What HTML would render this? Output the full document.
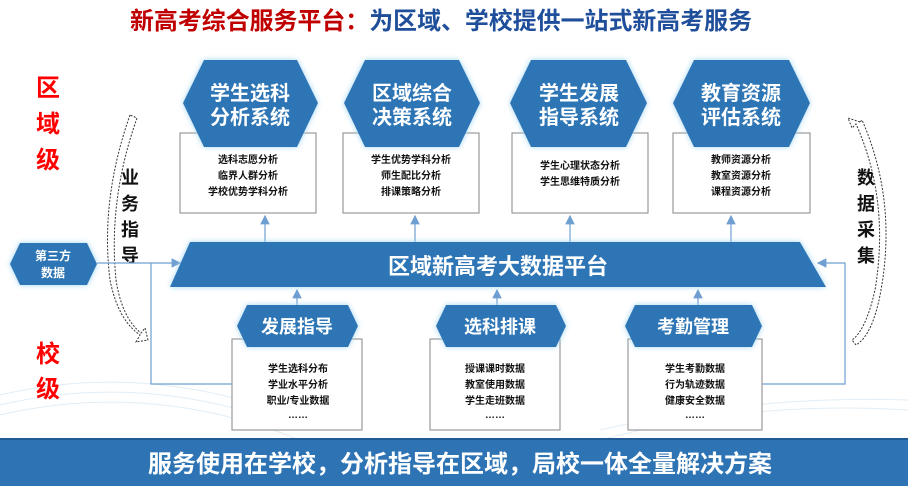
<!DOCTYPE html>
<html><head><meta charset="utf-8"><style>
html,body{margin:0;padding:0;background:#fff}
svg{display:block}
text{font-family:"Liberation Sans","Noto Sans CJK SC",sans-serif;font-weight:bold}
</style></head><body>
<svg width="908" height="486" viewBox="0 0 908 486" xmlns="http://www.w3.org/2000/svg">
<defs>
<filter id="g" x="-20%" y="-20%" width="140%" height="140%"><feGaussianBlur in="SourceAlpha" stdDeviation="3"/><feFlood flood-color="#9fd6f5"/><feComposite operator="in" in2="SourceAlpha"/><feGaussianBlur stdDeviation="3"/><feMerge><feMergeNode/><feMergeNode in="SourceGraphic"/></feMerge></filter>
<marker id="a" markerWidth="8" markerHeight="8" refX="7" refY="4" orient="auto"><path d="M0,0 L8,4 L0,8z" fill="#6f9fd1"/></marker>
</defs>
<g stroke="#dbe9f3" stroke-width="1" opacity="0.8">
<path d="M0,395 Q150,360 300,420" fill="none"/><path d="M0,405 Q150,370 300,430" fill="none"/><path d="M0,415 Q150,380 300,440" fill="none"/>
<path d="M600,440 Q750,400 908,410" fill="none"/><path d="M600,430 Q750,395 908,400" fill="none"/>
</g>
<text x="130" y="29" font-size="24" fill="#c00000" textLength="622" lengthAdjust="spacingAndGlyphs">新高考综合服务平台：<tspan fill="#1f4e9a">为区域、学校提供一站式新高考服务</tspan></text>

<g font-size="24" fill="#ff0000" text-anchor="middle">
<text x="48" y="96">区</text><text x="48" y="132">域</text><text x="48" y="168">级</text>
<text x="48" y="362">校</text><text x="48" y="397">级</text>
</g>
<g font-size="18" fill="#111" text-anchor="middle">
<text x="130" y="184">业</text><text x="130" y="210">务</text><text x="130" y="236">指</text><text x="130" y="262">导</text>
<text x="866" y="184">数</text><text x="866" y="210">据</text><text x="866" y="236">采</text><text x="866" y="262">集</text>
</g>
<path d="M130,115 Q100,200 110,280 Q118,320 140,335 L136,342 L148,340 L145,328 L141,333 Q122,318 116,280 Q108,200 137,118z" fill="#fff" stroke="#333" stroke-width="1" stroke-dasharray="2,1.5"/>
<path d="M860,122 L848,118 L852,128 L856,124 Q890,200 875,290 Q866,330 852,340 L856,345 Q873,335 881,290 Q897,200 862,120z" fill="#fff" stroke="#333" stroke-width="1" stroke-dasharray="2,1.5"/>

<g fill="#fff" stroke="#999" stroke-width="1.2">
<rect x="180" y="133" width="136" height="80"/><rect x="343" y="133" width="136" height="80"/>
<rect x="512" y="133" width="136" height="80"/><rect x="673" y="133" width="137" height="80"/>
</g>
<g fill="#2e74b5" filter="url(#g)">
<polygon points="183,103 204,60 297,60 318,103 297,147 204,147"/>
<polygon points="344,103 365,60 459,60 480,103 459,147 365,147"/>
<polygon points="510,103 531,60 626,60 647,103 626,147 531,147"/>
<polygon points="673,103 694,60 789,60 810,103 789,147 694,147"/>
</g>
<g font-size="20" fill="#fff" text-anchor="middle">
<text x="250" y="100">学生选科</text><text x="250" y="124">分析系统</text>
<text x="412" y="100">区域综合</text><text x="412" y="124">决策系统</text>
<text x="579" y="100">学生发展</text><text x="579" y="124">指导系统</text>
<text x="741" y="100">教育资源</text><text x="741" y="124">评估系统</text>
</g>
<g font-size="10" fill="#111" text-anchor="middle">
<text x="248" y="163">选科志愿分析</text><text x="248" y="179">临界人群分析</text><text x="248" y="195">学校优势学科分析</text>
<text x="411" y="163">学生优势学科分析</text><text x="411" y="179">师生配比分析</text><text x="411" y="195">排课策略分析</text>
<text x="580" y="169">学生心理状态分析</text><text x="580" y="185">学生思维特质分析</text>
<text x="741" y="163">教师资源分析</text><text x="741" y="179">教室资源分析</text><text x="741" y="195">课程资源分析</text>
</g>
<g stroke="#6f9fd1" stroke-width="1.2" fill="none">
<line x1="265" y1="242" x2="265" y2="216" marker-end="url(#a)"/>
<line x1="415" y1="242" x2="415" y2="216" marker-end="url(#a)"/>
<line x1="570" y1="242" x2="570" y2="216" marker-end="url(#a)"/>
<line x1="731" y1="242" x2="731" y2="216" marker-end="url(#a)"/>
<line x1="297" y1="305" x2="297" y2="290" marker-end="url(#a)"/>
<line x1="497" y1="305" x2="497" y2="290" marker-end="url(#a)"/>
<line x1="698" y1="305" x2="698" y2="290" marker-end="url(#a)"/>
<line x1="97" y1="263" x2="180" y2="263" marker-end="url(#a)"/>
<polyline points="151,263 151,384 232,384"/>
<polyline points="762,384 845,384 845,263 818,263" marker-end="url(#a)"/>
</g>
<polygon points="190,242 800,242 826,287 170,287" fill="#2e74b5" filter="url(#g)"/>
<text x="498" y="274" font-size="22" fill="#fff" text-anchor="middle">区域新高考大数据平台</text>
<polygon points="10,264 20,243 87,243 97,264 87,285 20,285" fill="#2e74b5" filter="url(#g)"/>
<text x="53" y="260" font-size="12" fill="#fff" text-anchor="middle">第三方</text>
<text x="53" y="277" font-size="12" fill="#fff" text-anchor="middle">数据</text>
<g fill="#fff" stroke="#999" stroke-width="1.2">
<rect x="232" y="339" width="130" height="91"/><rect x="430" y="339" width="130" height="91"/><rect x="628" y="339" width="134" height="91"/>
</g>
<g fill="#2e74b5" filter="url(#g)">
<polygon points="237,326 247,305 348,305 358,326 348,347 247,347"/>
<polygon points="436,326 446,305 556,305 566,326 556,347 446,347"/>
<polygon points="625,326 635,305 752,305 762,326 752,347 635,347"/>
</g>
<g font-size="18" fill="#fff" text-anchor="middle">
<text x="297" y="333">发展指导</text><text x="500" y="333">选科排课</text><text x="693" y="333">考勤管理</text>
</g>
<g font-size="10" fill="#111" text-anchor="middle">
<text x="298" y="372">学生选科分布</text><text x="298" y="388">学业水平分析</text><text x="298" y="404">职业/专业数据</text><text x="298" y="418">……</text>
<text x="495" y="372">授课课时数据</text><text x="495" y="388">教室使用数据</text><text x="495" y="404">学生走班数据</text><text x="495" y="418">……</text>
<text x="695" y="372">学生考勤数据</text><text x="695" y="388">行为轨迹数据</text><text x="695" y="404">健康安全数据</text><text x="695" y="418">……</text>
</g>
<rect x="0" y="438" width="908" height="48" fill="#2e74b5"/>
<rect x="0" y="438" width="908" height="2" fill="#1f5a94"/>
<text x="148" y="472" font-size="24" fill="#fff" textLength="624" lengthAdjust="spacingAndGlyphs">服务使用在学校，分析指导在区域，局校一体全量解决方案</text>
</svg>
</body></html>
